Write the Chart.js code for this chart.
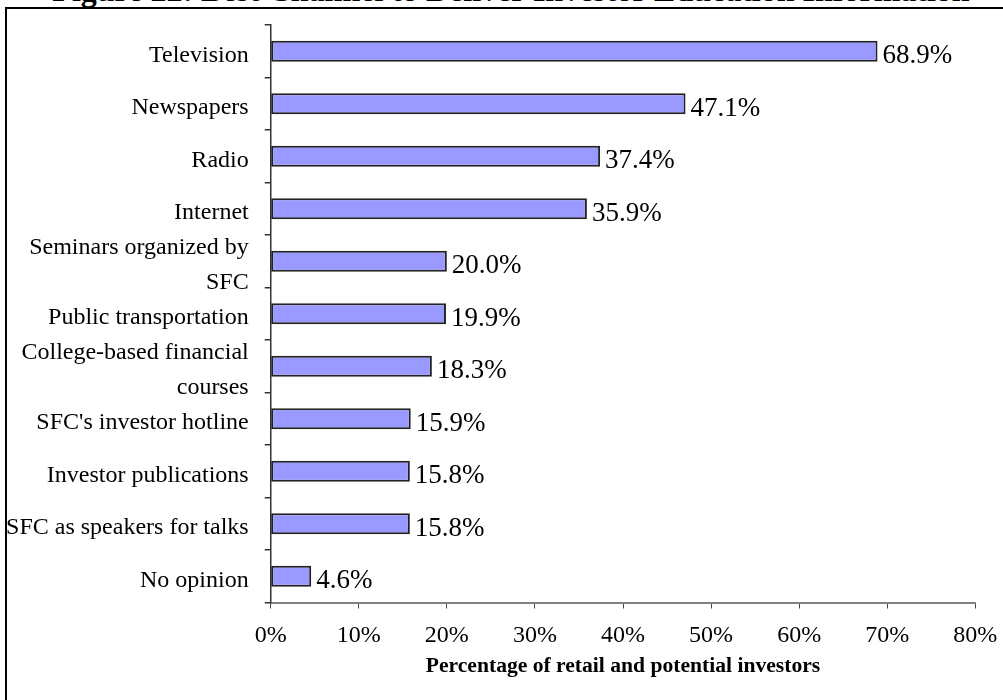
<!DOCTYPE html>
<html>
<head>
<meta charset="utf-8">
<script src="https://cdn.jsdelivr.net/npm/chart.js@4.4.1/dist/chart.umd.min.js"></script>
<style>
  html, body { margin: 0; padding: 0; background: #fff; overflow: hidden; }
  #wrap { position: relative; width: 1003px; height: 700px; }
  #frame { position: absolute; left: 5px; top: 7px; width: 1010px; height: 710px; border: 2px solid #000; box-sizing: border-box; }
  #fig-title {
    position: absolute; left: 511px; top: -26px; transform: translateX(-50%);
    font: bold 32px "Liberation Serif", "Times New Roman", serif; line-height: 32px;
    white-space: nowrap; color: #000;
  }
  #chart-box { position: absolute; left: 0; top: 0; width: 1003px; height: 700px; }
</style>
</head>
<body>
<div id="wrap">
  <div id="frame"></div>
  <div id="fig-title">Figure 22: Best Channel to Deliver Investor Education Information</div>
  <div id="chart-box"><canvas id="channelChart"></canvas></div>
</div>
<script>
const channels = [
  "Television",
  "Newspapers",
  "Radio",
  "Internet",
  ["Seminars organized by", "SFC"],
  "Public transportation",
  ["College-based financial", "courses"],
  "SFC's investor hotline",
  "Investor publications",
  "SFC as speakers for talks",
  "No opinion"
];
const sharePct = [68.9, 47.1, 37.4, 35.9, 20.0, 19.9, 18.3, 15.9, 15.8, 15.8, 4.6];
const xTicks = [0, 10, 20, 30, 40, 50, 60, 70, 80];

const serif = '"Liberation Serif", "Times New Roman", serif';

// percentage text to the right of each bar
const valueLabels = {
  id: "valueLabels",
  afterDatasetsDraw(chart) {
    const ctx = chart.ctx;
    const meta = chart.getDatasetMeta(0);
    ctx.save();
    ctx.font = "27px " + serif;
    ctx.fillStyle = "#000";
    ctx.textAlign = "left";
    ctx.textBaseline = "middle";
    meta.data.forEach((bar, i) => {
      ctx.fillText(sharePct[i].toFixed(1) + "%", bar.x + 5, bar.y + 5);
    });
    ctx.restore();
  }
};

new Chart(document.getElementById("channelChart"), {
  type: "bar",
  data: {
    labels: channels,
    datasets: [{
      data: sharePct,
      backgroundColor: "#9999ff",
      borderColor: "#222",
      borderWidth: 2,
      borderSkipped: false,
      categoryPercentage: 1,
      barPercentage: 0.4
    }]
  },
  options: {
    indexAxis: "y",
    animation: false,
    responsive: true,
    maintainAspectRatio: false,
    layout: { padding: { top: 25, right: 27.7, bottom: 20.8, left: 0 } },
    plugins: { legend: { display: false }, tooltip: { enabled: false } },
    scales: {
      x: {
        min: 0,
        max: 80,
        afterBuildTicks: axis => { axis.ticks = xTicks.map(v => ({ value: v })); },
        afterFit: axis => {
          axis.height = 76.7;
          axis.paddingLeft = 0;
          axis.paddingRight = 0;
        },
        ticks: {
          color: "#000",
          padding: 13,
          maxRotation: 0,
          autoSkip: false,
          font: { family: serif, size: 24 },
          callback: v => v + "%"
        },
        grid: { drawOnChartArea: false, tickLength: 6, color: "#444", lineWidth: 1 },
        border: { display: true, color: "#808080", width: 2 },
        title: {
          display: true,
          text: "Percentage of retail and potential investors",
          color: "#000",
          padding: 0,
          font: { family: serif, size: 21.6, weight: "bold" }
        }
      },
      y: {
        offset: true,
        afterFit: axis => {
          axis.width = 270.7;
          // labels sit inside their bands, keep the plot top at the layout padding
          axis.paddingTop = 0;
          axis.paddingBottom = 0;
        },
        ticks: {
          color: "#000",
          padding: 16,
          labelOffset: 4,
          autoSkip: false,
          font: { family: serif, size: 24, lineHeight: 1.45 }
        },
        grid: { offset: true, drawOnChartArea: false, tickLength: 6, color: "#333", lineWidth: 1.5 },
        border: { display: true, color: "#333", width: 1.5 }
      }
    }
  },
  plugins: [valueLabels]
});
</script>
</body>
</html>
